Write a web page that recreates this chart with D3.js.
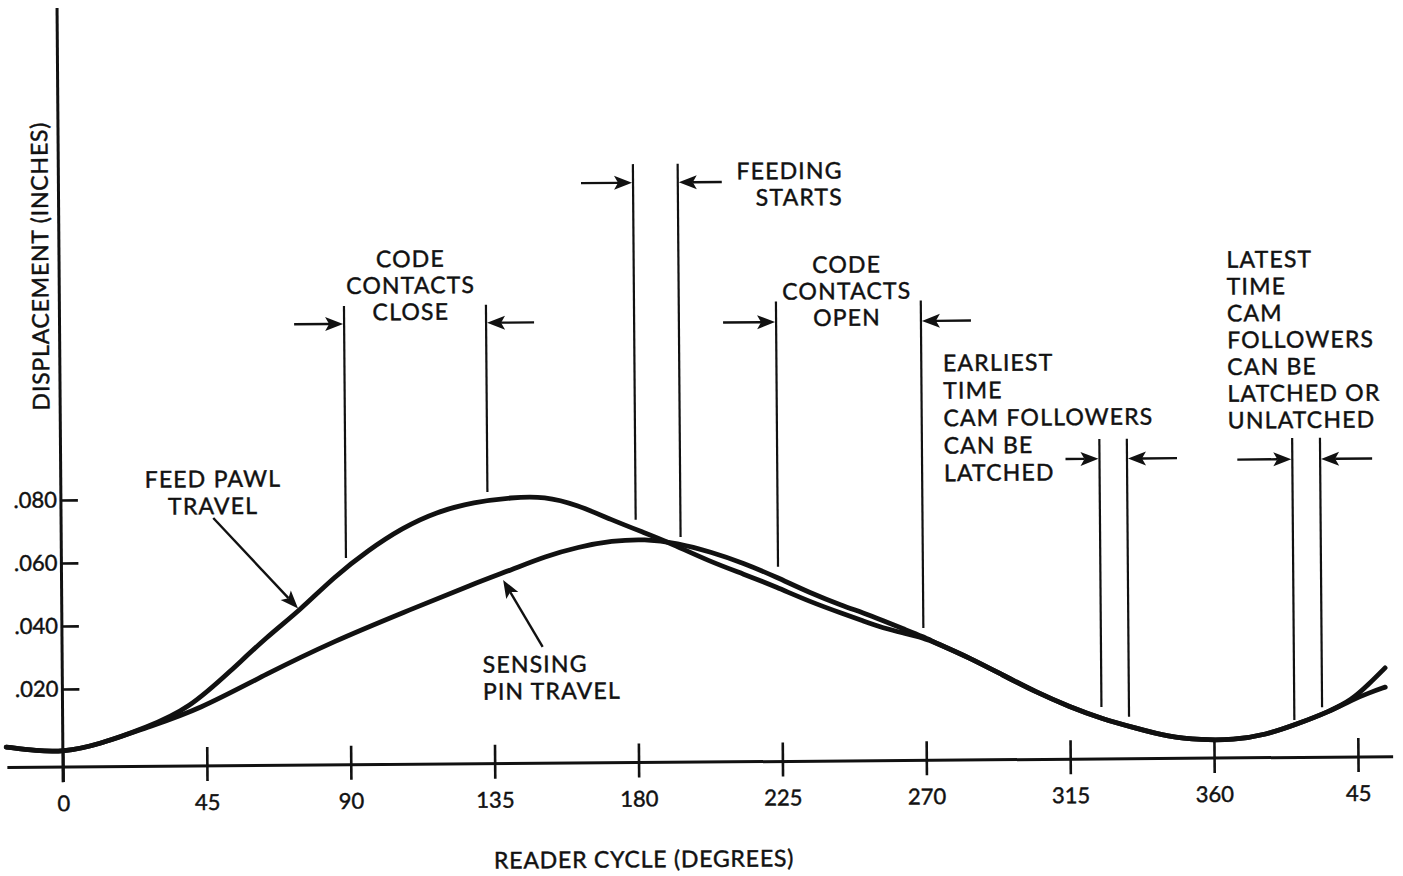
<!DOCTYPE html>
<html>
<head>
<meta charset="utf-8">
<script src="https://cdn.jsdelivr.net/npm/d3@7"></script>
<style>
  body { margin: 0; background: #fff; }
  svg { display: block; }
  text { font-family: Lato, "DejaVu Sans", sans-serif; fill: #111; stroke: #111; stroke-width: 0.45px; }
</style>
</head>
<body>
<svg id="chart" width="1403" height="876"></svg>
<script>
// axis ticks
var xTicks = [0, 45, 90, 135, 180, 225, 270, 315, 360, 405];
var xTickLabels = ["0", "45", "90", "135", "180", "225", "270", "315", "360", "45"];
var yTicks = [0.02, 0.04, 0.06, 0.08];
var yTickLabels = [".020", ".040", ".060", ".080"];

// feed pawl travel (degrees, inches)
var feedPawlDeg = [-17.7, -8.2, 0, 10.8, 26.6, 39.3, 53.0, 64.0, 74.6, 85.2, 96.1, 106.7, 117.3, 129.2, 140.9, 151.3, 161.6, 172.2, 182.5, 189.6, 203.1, 213.3, 223.5, 234.1, 244.4, 250.6, 256.9, 263.1, 269.4, 273.4, 283.9, 294.1, 304.4, 315, 325.2, 335.3, 345.8, 356.0, 366.0, 376.2, 386.1, 396.0, 403.2, 408.6, 413.7];
var feedPawlIn = [0.0017, 0.0004, 0, 0.0021, 0.0077, 0.0133, 0.0256, 0.0360, 0.0445, 0.0549, 0.0634, 0.0703, 0.0753, 0.0783, 0.0797, 0.0800, 0.0771, 0.0723, 0.0681, 0.0652, 0.0587, 0.0548, 0.0506, 0.0458, 0.0419, 0.0396, 0.0373, 0.0357, 0.0341, 0.0324, 0.0276, 0.0221, 0.0166, 0.0118, 0.0079, 0.0050, 0.0020, 0.0010, 0.0009, 0.0024, 0.0058, 0.0096, 0.0133, 0.0183, 0.0234];

// sensing pin travel (degrees, inches)
var sensingPinDeg = [-17.7, -8.2, 0, 10.8, 26.6, 42.5, 64.0, 85.2, 106.7, 129.2, 140.9, 151.3, 161.6, 172.2, 182.5, 192.7, 203.1, 213.3, 223.5, 234.1, 244.4, 250.6, 256.9, 263.1, 269.4, 273.4, 283.9, 294.1, 304.4, 315, 325.2, 335.3, 345.8, 356.0, 366.0, 376.2, 386.1, 396.0, 403.2, 408.6, 413.7];
var sensingPinIn = [0.0017, 0.0004, 0, 0.0021, 0.0077, 0.0130, 0.0244, 0.0346, 0.0434, 0.0525, 0.0568, 0.0609, 0.0638, 0.0657, 0.0662, 0.0648, 0.0619, 0.0583, 0.0538, 0.0486, 0.0444, 0.0422, 0.0396, 0.0370, 0.0344, 0.0324, 0.0276, 0.0221, 0.0166, 0.0118, 0.0079, 0.0050, 0.0020, 0.0010, 0.0009, 0.0024, 0.0058, 0.0096, 0.0133, 0.0155, 0.0173];

// timing markers: start / end degrees and where each line meets the curves (inches)
var markerStart = [89.0, 179.7, 224.1, 324.9, 385.2];
var markerEnd = [133.4, 193.7, 269.4, 333.5, 393.9];
var markerStartLow = [0.0609, 0.0723, 0.0570, 0.0117, 0.0071];
var markerEndLow = [0.0815, 0.0667, 0.0372, 0.0085, 0.0111];

// annotation text
var closeLabel = ["CODE", "CONTACTS", "CLOSE"];
var feedLabel = ["FEEDING", "STARTS"];
var openLabel = ["CODE", "CONTACTS", "OPEN"];
var earliestLabel = ["EARLIEST", "TIME", "CAM FOLLOWERS", "CAN BE", "LATCHED"];
var latestLabel = ["LATEST", "TIME", "CAM", "FOLLOWERS", "CAN BE", "LATCHED OR", "UNLATCHED"];
var feedPawlLabel = ["FEED PAWL", "TRAVEL"];
var sensingLabel = ["SENSING", "PIN TRAVEL"];
var xTitle = "READER CYCLE (DEGREES)";
var yTitle = "DISPLACEMENT (INCHES)";

var svg = d3.select("#chart");
var x = d3.scaleLinear().domain([0, 405]).range([63, 1358]);
var y = d3.scaleLinear().domain([0, 0.08]).range([752, 500]);
var axisY = y(-0.0048);

// the original sheet sits slightly rotated on the page
var g = svg.append("g").attr("transform", "rotate(-0.45," + x(0) + "," + axisY + ")");

// x axis
g.append("line")
  .attr("x1", x(-17.4)).attr("x2", x(416))
  .attr("y1", axisY).attr("y2", axisY)
  .attr("stroke", "#111").attr("stroke-width", 3);

var xAxis = d3.axisBottom(x)
  .tickValues(xTicks)
  .tickSize(15)
  .tickFormat(function(d, i) { return xTickLabels[i]; });

var xg = g.append("g").attr("transform", "translate(0," + axisY + ")").call(xAxis);
xg.select(".domain").remove();
xg.selectAll(".tick line").attr("y1", -19).attr("y2", 15)
  .attr("stroke", "#111").attr("stroke-width", 2.6);
xg.selectAll(".tick text").attr("y", 44).attr("dy", null)
  .style("font-size", "22px").style("font-family", "Lato, sans-serif").attr("fill", "#111");

// y axis
g.append("line")
  .attr("x1", x(0)).attr("x2", x(0))
  .attr("y1", 8).attr("y2", axisY + 15)
  .attr("stroke", "#111").attr("stroke-width", 3);

var yAxis = d3.axisLeft(y)
  .tickValues(yTicks)
  .tickSizeInner(-17)
  .tickSizeOuter(0)
  .tickPadding(4)
  .tickFormat(function(d, i) { return yTickLabels[i]; });

var yg = g.append("g").attr("transform", "translate(" + x(0) + ",0)").call(yAxis);
yg.select(".domain").remove();
yg.selectAll(".tick line").attr("stroke", "#111").attr("stroke-width", 2.6);
yg.selectAll(".tick text").style("font-size", "22px").style("font-family", "Lato, sans-serif").attr("fill", "#111");

// curves
var line = d3.line()
  .x(function(d) { return x(d[0]); })
  .y(function(d) { return y(d[1]); })
  .curve(d3.curveBasis);

g.append("path")
  .datum(d3.zip(sensingPinDeg, sensingPinIn))
  .attr("d", line)
  .attr("fill", "none").attr("stroke", "#111").attr("stroke-width", 4.8)
  .attr("stroke-linecap", "round");

g.append("path")
  .datum(d3.zip(feedPawlDeg, feedPawlIn))
  .attr("d", line)
  .attr("fill", "none").attr("stroke", "#111").attr("stroke-width", 4.8)
  .attr("stroke-linecap", "round");

// arrows
function arrow(x1, y1, x2, y2) {
  var dx = x2 - x1, dy = y2 - y1;
  var len = Math.sqrt(dx * dx + dy * dy);
  var ux = dx / len, uy = dy / len;
  var hl = 18, hw = 7, notch = 4;
  var bx = x2 - ux * hl, by = y2 - uy * hl;
  g.append("line")
    .attr("x1", x1).attr("y1", y1)
    .attr("x2", x2 - ux * (hl - notch)).attr("y2", y2 - uy * (hl - notch))
    .attr("stroke", "#111").attr("stroke-width", 2.4);
  var pts = [
    [x2, y2],
    [bx - uy * hw, by + ux * hw],
    [x2 - ux * (hl - notch), y2 - uy * (hl - notch)],
    [bx + uy * hw, by - ux * hw]
  ];
  g.append("path")
    .attr("d", "M" + pts.map(function(p) { return p[0] + "," + p[1]; }).join("L") + "Z")
    .attr("fill", "#111");
}

// timing marker pairs
var markerTop = [0.1409, 0.1852, 0.1412, 0.0968, 0.0966];
var arrowAt = [0.1352, 0.1793, 0.1347, 0.0905, 0.0899];
var leftLen = [50, 52, 53, 34, 55];
var rightLen = [48, 44, 50, 50, 52];

markerStart.forEach(function(d, i) {
  var xs = x(d), xe = x(markerEnd[i]);
  g.append("line")
    .attr("x1", xs).attr("x2", xs)
    .attr("y1", y(markerTop[i])).attr("y2", y(markerStartLow[i]))
    .attr("stroke", "#111").attr("stroke-width", 2.2);
  g.append("line")
    .attr("x1", xe).attr("x2", xe)
    .attr("y1", y(markerTop[i])).attr("y2", y(markerEndLow[i]))
    .attr("stroke", "#111").attr("stroke-width", 2.2);
  var ay = y(arrowAt[i]);
  arrow(xs - leftLen[i], ay, xs - 1, ay);
  arrow(xe + rightLen[i], ay, xe + 1, ay);
});

// curve pointers
arrow(x(47.6), y(0.0739), x(73.9), y(0.0450));
arrow(x(150.3), y(0.0322), x(138.1), y(0.0535));

// text blocks
function block(lines, px, py, anchor, lh) {
  g.append("text")
    .attr("text-anchor", anchor)
    .style("font-size", "23px")
    .style("letter-spacing", "1.2px")
    .selectAll("tspan").data(lines).enter()
    .append("tspan")
    .attr("x", px)
    .attr("y", function(d, i) { return py + i * lh; })
    .text(function(d) { return d; });
}

block(feedPawlLabel, x(47.6), y(0.0837), "middle", 27);
block(sensingLabel, x(131.5), y(0.0241), "start", 27);
block(closeLabel, x(109.9), y(0.1531), "middle", 26.5);
block(feedLabel, x(245.3), y(0.1801), "end", 26.5);
block(openLabel, x(246.3), y(0.1502), "middle", 26.5);
block(earliestLabel, x(276.2), y(0.1187), "start", 27.5);
block(latestLabel, x(365.1), y(0.1508), "start", 26.8);

// axis titles
g.append("text")
  .attr("x", x(181.5)).attr("y", 872)
  .attr("text-anchor", "middle")
  .style("font-size", "23px").style("letter-spacing", "0.8px")
  .text(xTitle);

g.append("text")
  .attr("transform", "translate(44,266) rotate(-90)")
  .attr("text-anchor", "middle")
  .attr("dy", "0.36em")
  .style("font-size", "23px").style("letter-spacing", "0.8px")
  .text(yTitle);
</script>
</body>
</html>
